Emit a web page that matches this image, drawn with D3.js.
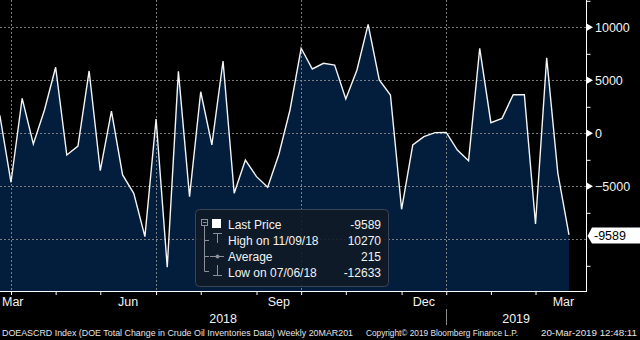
<!DOCTYPE html>
<html><head><meta charset="utf-8">
<script src="https://cdnjs.cloudflare.com/ajax/libs/d3/7.8.5/d3.min.js"></script>
<style>
html,body{margin:0;padding:0;background:#000;}
svg{display:block;}
text{font-family:"Liberation Sans",Arial,sans-serif;}
</style></head><body>
<svg id="chart" width="640" height="340"></svg>
<script>
// ---- data ----
const weekDates = [
  "2018-03-23","2018-03-30","2018-04-06","2018-04-13","2018-04-20","2018-04-27",
  "2018-05-04","2018-05-11","2018-05-18","2018-05-25","2018-06-01","2018-06-08",
  "2018-06-15","2018-06-22","2018-06-29","2018-07-06","2018-07-13","2018-07-20",
  "2018-07-27","2018-08-03","2018-08-10","2018-08-17","2018-08-24","2018-08-31",
  "2018-09-07","2018-09-14","2018-09-21","2018-09-28","2018-10-05","2018-10-12",
  "2018-10-19","2018-10-26","2018-11-02","2018-11-09","2018-11-16","2018-11-23",
  "2018-11-30","2018-12-07","2018-12-14","2018-12-21","2018-12-28","2019-01-04",
  "2019-01-11","2019-01-18","2019-01-25","2019-02-01","2019-02-08","2019-02-15",
  "2019-02-22","2019-03-01","2019-03-08","2019-03-15"
];
const inventoryChange = [
  1700, -4620, 3300, -1010, 2200, 6230,
  -2050, -1200, 5880, -3530, 2100, -3930,
  -5660, -9750, 1350, -12633, 5840, -5980,
  3920, -1100, 6820, -5660, -2520, -4090,
  -5090, -2000, 2200, 8020, 6070, 6600,
  6440, 3240, 5970, 10270, 5030, 3610,
  -7170, -1100, -320, 60, 90, -1580,
  -2580, 8020, 1000, 1410, 3640, 3640,
  -8560, 7130, -3770, -9589
];
const yMajorTicks = [10000, 5000, 0, -5000];
const yGridValues = [10000, 5000, 0, -5000, -10000];
const yMinorTicks = [12500, 7500, 2500, -2500, -7500, -12500];
const monthLabelMonths = ["2018-03", "2018-06", "2018-09", "2018-12", "2019-03"];
const monthLabels = ["Mar", "Jun", "Sep", "Dec", "Mar"];
const yearLabels = ["2018", "2019"];
const legendLabels = ["Last Price", "High on 11/09/18", "Average", "Low on 07/06/18"];
const legendValues = ["-9589", "10270", "215", "-12633"];
const lastValueLabel = "-9589";
const lastValue = -9589;
const footerTexts = [
  "DOEASCRD Index (DOE Total Change in Crude Oil Inventories Data)  Weekly 20MAR201",
  "Copyright\u00a9 2019 Bloomberg Finance L.P.",
  "20-Mar-2019 12:48:11"
];

// ---- layout ----
const plotRight = 586, plotBottom = 291;
const navy = "#021e3c";
const svg = d3.select("#chart");
svg.append("rect").attr("width",640).attr("height",340).attr("fill","#000");

const parse = d3.utcParse("%Y-%m-%d");
const parseMonth = d3.utcParse("%Y-%m");
const data = weekDates.map((d,i)=>({date: parse(d), value: inventoryChange[i]}));

const x = d3.scaleUtc().domain([parse("2018-03-30"), parse("2019-03-15")]).range([11, 569]);
const y = d3.scaleLinear().domain([-10000, 10000]).range([239.3, 27.3]);

const lastFriday = m => d3.utcFriday.floor(d3.utcDay.offset(d3.utcMonth.offset(m, 1), -1));

svg.append("defs").append("clipPath").attr("id","plotclip")
  .append("rect").attr("x",0).attr("y",0).attr("width",plotRight).attr("height",plotBottom);

const plot = svg.append("g").attr("clip-path","url(#plotclip)");

// area
plot.append("path").datum(data)
  .attr("fill", navy)
  .attr("d", d3.area().x(d=>x(d.date)).y0(plotBottom).y1(d=>y(d.value)));

// gridlines
const months = d3.utcMonth.range(parseMonth("2018-03"), parseMonth("2019-04"));
const quarterMonths = months.filter(m => [2,5,8,11].includes(m.getUTCMonth()) && m.getUTCFullYear()===2018);
const grid = plot.append("g").attr("stroke","#8f8f8f").attr("stroke-width",1)
  .attr("stroke-dasharray","2,2").attr("stroke-opacity",0.85);
grid.selectAll("line.h").data(yGridValues).join("line")
  .attr("x1",0).attr("x2",plotRight)
  .attr("y1",d=>Math.round(y(d))+0.5).attr("y2",d=>Math.round(y(d))+0.5);
grid.selectAll("line.v").data(quarterMonths).join("line")
  .attr("y1",0).attr("y2",plotBottom)
  .attr("x1",d=>Math.round(x(lastFriday(d)))+0.5).attr("x2",d=>Math.round(x(lastFriday(d)))+0.5);

// line
plot.append("path").datum(data)
  .attr("fill","none").attr("stroke","#f4f4f4").attr("stroke-width",1.4)
  .attr("stroke-linejoin","miter")
  .attr("d", d3.line().x(d=>x(d.date)).y(d=>y(d.value)));

// ---- x axis ----
const tickDates = months.map(lastFriday).filter(d => x(d) <= plotRight);
const xAxis = d3.axisBottom(x).tickValues(tickDates).tickSize(4).tickFormat("");
const xg = svg.append("g").attr("transform",`translate(0,${plotBottom})`).call(xAxis);
xg.select(".domain").remove();
xg.selectAll(".tick line").attr("stroke","#fff");
svg.append("line").attr("x1",0).attr("x2",plotRight+0.5).attr("y1",plotBottom+0.5).attr("y2",plotBottom+0.5)
  .attr("stroke","#fff").attr("stroke-width",1);

monthLabelMonths.forEach((ms,i)=>{
  const m = parseMonth(ms);
  const a = x(lastFriday(d3.utcMonth.offset(m,-1))), b = x(lastFriday(m));
  let cx = (a+b)/2;
  const t = svg.append("text").attr("y",306).attr("fill","#f2f2f2")
    .attr("font-size","12.5px").text(monthLabels[i]);
  if (cx - 10 < 1) { t.attr("x",2).attr("text-anchor","start"); }
  else { t.attr("x",cx).attr("text-anchor","middle"); }
});
const yearSplit = x(lastFriday(parseMonth("2018-12")));
svg.append("text").attr("x",yearSplit/2).attr("y",323).attr("text-anchor","middle")
  .attr("fill","#f2f2f2").attr("font-size","12.5px").text(yearLabels[0]);
svg.append("text").attr("x",(yearSplit+plotRight)/2).attr("y",323).attr("text-anchor","middle")
  .attr("fill","#f2f2f2").attr("font-size","12.5px").text(yearLabels[1]);
svg.append("line").attr("x1",Math.round(yearSplit)+0.5).attr("x2",Math.round(yearSplit)+0.5)
  .attr("y1",309).attr("y2",325).attr("stroke","#8a8a8a");

// ---- y axis (right) ----
svg.append("line").attr("x1",plotRight+0.5).attr("x2",plotRight+0.5).attr("y1",0).attr("y2",plotBottom+1)
  .attr("stroke","#fff");
const yMinor = d3.axisRight(y).tickValues(yMinorTicks).tickSize(4).tickFormat("");
const ymg = svg.append("g").attr("transform",`translate(${plotRight+0.5},0)`).call(yMinor);
ymg.select(".domain").remove();
ymg.selectAll(".tick line").attr("stroke","#fff");
const yMajor = d3.axisRight(y).tickValues(yMajorTicks).tickSize(0).tickPadding(9).tickFormat(d3.format("d"));
const yMg = svg.append("g").attr("transform",`translate(${plotRight},0)`).call(yMajor);
yMg.select(".domain").remove();
yMg.selectAll(".tick text").attr("fill","#f2f2f2").attr("font-size","12.5px")
  .attr("font-family","'Liberation Sans',Arial,sans-serif");
svg.selectAll("path.tri").data(yMajorTicks).join("path").attr("class","tri")
  .attr("fill","#fff")
  .attr("d",d=>{const yy=y(d);return `M${plotRight+1},${yy-3.5}L${plotRight+7},${yy}L${plotRight+1},${yy+3.5}Z`;});

// last value tag
const ly = y(lastValue);
svg.append("path").attr("fill","#fff")
  .attr("d",`M${plotRight+1.5},${ly+1}L${plotRight+6},${ly-7.5}L640,${ly-7.5}L640,${ly+8.5}L${plotRight+6},${ly+8.5}Z`);
svg.append("text").attr("x",594).attr("y",ly+1).attr("dy","0.35em").attr("fill","#000")
  .attr("font-size","12.5px").text(lastValueLabel);

// ---- legend ----
const lg = svg.append("g");
lg.append("rect").attr("x",195.5).attr("y",209.5).attr("width",193).attr("height",77).attr("rx",4)
  .attr("fill","#0f1926").attr("fill-opacity",0.9).attr("stroke","#3a4350");
const gray = "#8c9096";
const ic = lg.append("g").attr("stroke",gray).attr("stroke-width",1).attr("fill","none");
ic.append("rect").attr("x",201.5).attr("y",219.5).attr("width",6).attr("height",6);
ic.append("line").attr("x1",203).attr("x2",206.5).attr("y1",222.5).attr("y2",222.5);
ic.append("line").attr("x1",204.5).attr("x2",204.5).attr("y1",226).attr("y2",271.5);
[240.5,256.5,271.5].forEach(yy=>ic.append("line").attr("x1",204.5).attr("x2",209).attr("y1",yy).attr("y2",yy));
ic.append("line").attr("x1",213).attr("x2",222).attr("y1",233.5).attr("y2",233.5);
ic.append("line").attr("x1",217.5).attr("x2",217.5).attr("y1",233.5).attr("y2",243);
ic.append("line").attr("x1",210).attr("x2",224).attr("y1",256.5).attr("y2",256.5);
ic.append("line").attr("x1",217.5).attr("x2",217.5).attr("y1",265).attr("y2",275);
ic.append("line").attr("x1",213).attr("x2",222).attr("y1",275.5).attr("y2",275.5);
lg.append("circle").attr("cx",217.5).attr("cy",256.5).attr("r",2).attr("fill",gray);
lg.append("rect").attr("x",212).attr("y",219).attr("width",9).attr("height",9).attr("fill","#fff");
const rowY = [229, 245, 261, 277];
legendLabels.forEach((t,i)=>{
  lg.append("text").attr("x",228).attr("y",rowY[i]).attr("fill","#f2f2f2")
    .attr("font-family","'DejaVu Sans',sans-serif").attr("font-size","12px").text(t);
  lg.append("text").attr("x",381).attr("y",rowY[i]).attr("text-anchor","end").attr("fill","#f2f2f2")
    .attr("font-family","'DejaVu Sans',sans-serif").attr("font-size","12px").text(legendValues[i]);
});

// ---- footer ----
const footerX = [2, 366, 541], footerLen = [351, 152, 96];
footerTexts.forEach((t,i)=>{
  svg.append("text").attr("x",footerX[i]).attr("y",335.5).attr("fill","#e4e4e4")
    .attr("font-family","'DejaVu Sans',sans-serif").attr("font-size","8.5px")
    .attr("textLength",footerLen[i]).attr("lengthAdjust","spacingAndGlyphs").text(t);
});
</script>
</body></html>
